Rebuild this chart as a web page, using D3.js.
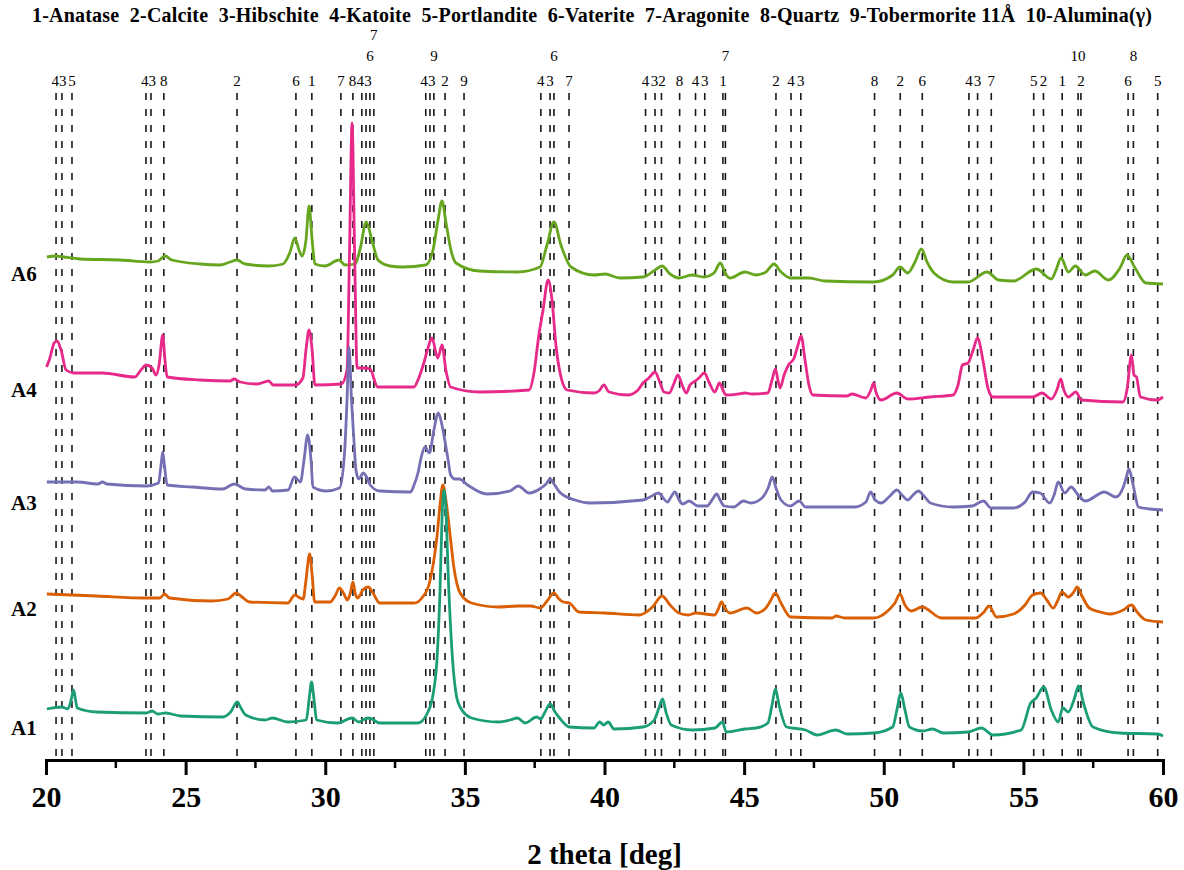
<!DOCTYPE html>
<html>
<head>
<meta charset="utf-8">
<script src="https://cdn.jsdelivr.net/npm/d3@7"></script>
<style>
  html, body { margin: 0; padding: 0; background: #fff; }
  svg { display: block; }
</style>
</head>
<body>
<svg id="chart" width="1184" height="870"></svg>
<script>
// XRD patterns, intensity in arbitrary units (stacked, offset included)
const seriesNames = ["A1", "A2", "A3", "A4", "A6"];
const seriesColors = ["#1b9e77", "#d95f02", "#7570b3", "#e7298a", "#66a61e"];

const a1 = [[20.03,53],[20.57,55],[20.78,53],[20.90,62],[20.99,72],[21.07,60],[21.12,54],[21.81,50],[23.59,49],[23.80,51],[24.00,48],[24.28,49],[24.82,46],[26.33,45],[26.61,50],[26.85,60],[26.98,54],[27.15,47],[27.84,42],[28.11,44],[28.66,40],[29.32,42],[29.42,62],[29.51,80],[29.60,62],[29.69,42],[30.44,39],[30.96,44],[31.20,40],[31.42,43],[31.57,44],[31.95,39],[33.32,39],[33.66,49],[33.87,69],[34.00,102],[34.11,172],[34.18,242],[34.25,272],[34.32,252],[34.41,182],[34.56,102],[34.68,69],[34.83,55],[35.24,44],[36.20,40],[36.62,42],[36.88,44],[37.16,39],[37.57,45],[37.71,43],[37.87,50],[38.05,58],[38.23,50],[38.39,44],[38.74,35],[39.62,34],[39.83,40],[39.97,37],[40.13,40],[40.34,33],[41.38,35],[41.78,42],[41.95,54],[42.08,63],[42.20,50],[42.39,37],[43.14,32],[43.96,34],[44.22,40],[44.36,30],[45.03,33],[45.44,34],[45.85,39],[46.00,57],[46.12,73],[46.25,57],[46.52,35],[47.20,32],[47.61,27],[48.28,32],[48.69,28],[49.64,29],[50.32,35],[50.47,52],[50.61,69],[50.76,52],[50.92,35],[51.40,31],[51.74,33],[52.14,29],[53.02,30],[53.50,34],[53.91,27],[54.92,32],[55.26,59],[55.46,64],[55.73,75],[56.00,52],[56.25,40],[56.41,54],[56.61,50],[56.81,62],[56.98,76],[57.17,57],[57.49,35],[58.44,29],[59.80,28],[60.00,26]];

const a2 = [[20.03,168],[21.81,166],[23.59,164],[24.08,164],[24.24,168],[24.42,164],[25.92,161],[26.52,163],[26.81,169],[27.02,165],[27.29,160],[28.66,159],[28.91,167],[29.10,164],[29.21,163],[29.31,182],[29.44,208],[29.53,187],[29.62,160],[30.17,160],[30.35,166],[30.51,174],[30.67,168],[30.79,162],[30.89,168],[30.99,180],[31.08,168],[31.17,164],[31.32,171],[31.54,175],[31.71,169],[31.95,159],[33.19,159],[33.46,164],[33.73,179],[33.89,202],[34.00,225],[34.11,257],[34.21,277],[34.32,262],[34.41,242],[34.49,222],[34.61,194],[34.83,169],[35.24,159],[36.20,155],[36.90,156],[37.36,156],[37.71,154],[37.94,161],[38.19,169],[38.37,163],[38.53,160],[38.74,159],[39.08,150],[40.02,149],[41.24,147],[41.72,155],[42.06,166],[42.35,157],[42.66,149],[43.00,147],[43.27,149],[43.95,147],[44.06,152],[44.19,160],[44.31,154],[44.49,149],[45.10,154],[45.44,149],[45.78,154],[45.96,162],[46.12,169],[46.32,159],[46.66,145],[48.15,144],[48.29,146],[48.61,144],[49.64,144],[50.18,152],[50.40,159],[50.58,168],[50.76,157],[50.99,151],[51.37,155],[52.07,144],[53.29,144],[53.59,150],[53.77,156],[54.04,145],[54.65,148],[55.06,157],[55.33,167],[55.62,169],[55.84,162],[56.07,154],[56.24,162],[56.38,170],[56.61,165],[56.78,169],[56.93,175],[57.10,166],[57.36,154],[57.75,150],[58.10,148],[58.58,152],[58.87,157],[59.10,149],[59.39,142],[60.00,140]];

const a3 = [[20.03,280],[21.12,280],[21.86,278],[22.02,280],[22.18,278],[23.59,276],[24.03,279],[24.12,297],[24.18,310],[24.24,297],[24.34,277],[25.24,275],[26.33,273],[26.74,278],[27.15,273],[27.84,272],[27.98,275],[28.11,271],[28.67,272],[28.90,285],[29.11,280],[29.24,302],[29.37,327],[29.49,302],[29.56,275],[30.03,271],[30.51,274],[30.69,309],[30.78,362],[30.85,415],[30.94,362],[31.02,325],[31.10,292],[31.20,283],[31.36,289],[31.50,284],[31.61,277],[31.95,271],[33.05,270],[33.18,277],[33.32,289],[33.43,304],[33.57,315],[33.73,309],[33.89,332],[34.05,349],[34.18,337],[34.28,322],[34.40,302],[34.49,287],[34.65,283],[34.80,283],[35.10,277],[35.79,268],[36.61,271],[36.91,276],[37.30,269],[37.73,274],[37.91,278],[38.05,283],[38.19,278],[38.39,270],[38.94,262],[39.48,259],[41.38,262],[41.63,265],[41.92,269],[42.26,260],[42.38,265],[42.52,270],[42.67,262],[42.80,258],[43.03,261],[43.34,256],[43.67,256],[43.85,262],[44.02,268],[44.14,262],[44.29,256],[44.63,255],[44.97,261],[45.24,259],[45.64,264],[45.86,274],[46.01,285],[46.14,274],[46.32,262],[46.66,256],[46.97,261],[47.20,255],[48.96,255],[49.36,260],[49.53,270],[49.69,262],[49.91,259],[50.22,266],[50.47,272],[50.65,267],[50.86,262],[51.05,267],[51.24,271],[51.44,266],[51.67,259],[52.48,255],[53.16,256],[53.57,261],[53.84,254],[54.65,254],[55.06,260],[55.33,270],[55.60,269],[55.94,259],[56.10,267],[56.25,280],[56.48,269],[56.71,275],[56.96,267],[57.22,261],[57.90,270],[58.31,265],[58.58,275],[58.68,284],[58.78,293],[58.93,277],[59.12,255],[59.52,253],[60.00,252]];

const a4 = [[20.02,395],[20.14,404],[20.29,419],[20.39,421],[20.54,412],[20.72,392],[20.99,389],[22.01,389],[23.18,385],[23.40,392],[23.59,397],[23.80,394],[23.94,387],[24.05,397],[24.18,427],[24.26,402],[24.34,385],[25.51,382],[26.59,381],[26.74,383],[26.95,380],[27.56,378],[27.98,381],[28.13,377],[28.93,377],[29.20,384],[29.31,412],[29.42,432],[29.53,412],[29.63,377],[30.58,378],[30.78,392],[30.87,512],[30.96,639],[31.05,512],[31.14,394],[31.39,394],[31.60,393],[31.88,375],[33.18,375],[33.32,382],[33.53,399],[33.68,414],[33.82,424],[34.03,404],[34.18,417],[34.32,392],[34.49,375],[35.51,370],[37.30,372],[37.48,390],[37.64,425],[37.80,452],[37.98,482],[38.12,462],[38.26,417],[38.41,389],[38.66,372],[39.62,369],[39.80,371],[39.98,377],[40.16,370],[40.84,367],[41.20,372],[41.38,379],[41.59,384],[41.81,390],[41.99,379],[42.13,370],[42.32,369],[42.48,378],[42.63,387],[42.78,377],[42.93,369],[43.06,377],[43.20,380],[43.38,384],[43.58,389],[43.74,380],[43.95,370],[44.12,379],[44.24,372],[44.35,367],[44.78,368],[45.03,369],[45.28,368],[45.85,369],[46.00,382],[46.12,393],[46.21,382],[46.29,374],[46.43,387],[46.59,397],[46.79,404],[46.93,417],[47.04,426],[47.18,402],[47.32,377],[47.46,367],[48.68,366],[48.86,368],[49.36,364],[49.54,372],[49.64,379],[49.72,370],[49.90,362],[50.47,369],[50.86,363],[51.66,365],[52.48,367],[52.66,377],[52.82,397],[53.02,399],[53.20,412],[53.36,424],[53.55,402],[53.73,374],[53.91,365],[55.33,365],[55.67,369],[56.00,363],[56.20,372],[56.34,383],[56.45,372],[56.61,365],[56.88,370],[57.08,362],[58.57,360],[58.71,372],[58.87,407],[58.96,387],[59.05,385],[59.19,365],[59.78,362],[60.00,365]];

const a6 = [[20.03,505],[20.36,506],[20.64,505],[21.22,503],[22.65,502],[23.72,500],[24.01,501],[24.26,506],[24.51,502],[25.51,498],[26.23,497],[26.59,500],[26.84,502],[27.13,498],[27.98,496],[28.49,498],[28.74,510],[28.91,524],[29.06,512],[29.17,506],[29.31,522],[29.42,556],[29.53,522],[29.63,498],[29.99,496],[30.49,502],[30.71,497],[31.07,498],[31.24,512],[31.47,540],[31.67,522],[31.89,502],[32.32,496],[32.78,495],[33.60,497],[33.86,512],[34.04,542],[34.18,561],[34.32,540],[34.50,512],[34.68,499],[35.51,491],[36.88,490],[37.69,495],[37.94,517],[38.19,540],[38.44,517],[38.80,495],[39.62,487],[40.02,488],[40.55,484],[41.38,485],[41.81,492],[42.06,496],[42.35,488],[42.67,484],[43.13,487],[43.55,485],[43.92,489],[44.15,499],[44.32,489],[44.49,484],[45.03,490],[45.43,487],[45.78,490],[46.07,498],[46.32,490],[46.66,484],[47.32,484],[47.88,481],[49.64,480],[50.32,487],[50.58,495],[50.86,489],[51.12,500],[51.35,513],[51.55,500],[51.80,489],[52.48,480],[53.02,480],[53.70,490],[54.11,482],[54.65,481],[55.46,493],[56.00,483],[56.17,492],[56.35,504],[56.61,490],[56.86,496],[57.22,487],[57.56,491],[58.04,482],[58.46,494],[58.71,507],[59.00,494],[59.39,479],[60.00,478]];

const seriesData = [a1, a2, a3, a4, a6];

// Reference reflections: 2θ position, phase number, label tier
const phasePos = [20.36,20.57,20.93,23.58,23.76,24.22,26.84,28.95,29.52,30.56,30.99,31.31,31.46,31.60,31.74,33.60,33.75,33.89,34.29,34.97,37.72,38.05,38.19,38.73,41.47,41.81,42.04,42.69,43.26,43.59,44.24,44.33,46.14,46.68,47.03,49.67,50.59,51.38,53.05,53.36,53.85,55.37,55.72,56.39,56.96,57.06,58.75,58.94,59.81];
const phaseId  = [4,3,5,4,3,8,2,6,1,7,8,4,3,6,7,4,3,9,2,9,4,3,6,7,4,3,2,8,4,3,1,7,2,4,3,8,2,6,4,3,7,5,2,1,10,2,6,8,5];
const phaseTier = [0,0,0,0,0,0,0,0,0,0,0,0,0,1,2,0,0,1,0,0,0,0,1,0,0,0,0,0,0,0,0,1,0,0,0,0,0,0,0,0,0,0,0,0,1,0,0,1,0];

const legendText = "1-Anatase  2-Calcite  3-Hibschite  4-Katoite  5-Portlandite  6-Vaterite  7-Aragonite  8-Quartz  9-Tobermorite 11Å  10-Alumina(γ)";
const majorTicks = [20, 25, 30, 35, 40, 45, 50, 55, 60];
const minorTicks = [22.5, 27.5, 32.5, 37.5, 42.5, 47.5, 52.5, 57.5];
const xTitle = "2 theta [deg]";

const svg = d3.select("#chart");
const serif = "'Liberation Serif', 'Times New Roman', serif";

const x = d3.scaleLinear().domain([20, 60]).range([46, 1163]);
const y = d3.scaleLinear().domain([0, 700]).range([762, 62]);

// phase legend
svg.append("text")
  .attr("x", 32).attr("y", 22)
  .attr("font-family", serif).attr("font-weight", "bold").attr("font-size", 20)
  .attr("textLength", 1120).attr("lengthAdjust", "spacing")
  .style("white-space", "pre")
  .text(legendText);

// dashed reference lines
svg.append("g").selectAll("line")
  .data(phasePos)
  .join("line")
  .attr("x1", d => x(d)).attr("x2", d => x(d))
  .attr("y1", 93).attr("y2", 759)
  .attr("stroke", "#1a1a1a").attr("stroke-width", 1.6)
  .attr("stroke-dasharray", "7,9");

// phase numbers above the lines; neighbours in the same tier are nudged apart
const tierY = [86, 61, 40];
const digitW = 7.2;
const labels = phasePos.map((p, i) => ({
  id: phaseId[i], tier: phaseTier[i], cx: x(p), w: String(phaseId[i]).length * digitW
}));
for (let pass = 0; pass < 6; pass++) {
  [0, 1, 2].forEach(t => {
    const row = labels.filter(l => l.tier === t).sort((a, b) => a.cx - b.cx);
    for (let k = 1; k < row.length; k++) {
      const a = row[k - 1], b = row[k];
      const gap = (b.cx - b.w / 2) - (a.cx + a.w / 2);
      if (gap < 0.5) {
        const push = (0.5 - gap) / 2;
        a.cx -= push; b.cx += push;
      }
    }
  });
}
svg.append("g").selectAll("text")
  .data(labels)
  .join("text")
  .attr("x", d => d.cx)
  .attr("y", d => tierY[d.tier])
  .attr("text-anchor", "middle")
  .attr("font-family", serif).attr("font-size", 15)
  .text(d => d.id);

// patterns, top sample first so lower ones overlay
const line = d3.line()
  .x(d => x(d[0])).y(d => y(d[1]))
  .curve(d3.curveMonotoneX);

const order = [4, 3, 2, 1, 0];
svg.append("g").selectAll("path")
  .data(order)
  .join("path")
  .attr("d", i => line(seriesData[i]))
  .attr("fill", "none")
  .attr("stroke", i => seriesColors[i])
  .attr("stroke-width", 2.8)
  .attr("stroke-linejoin", "round");

// sample labels beside each baseline
const labelLift = [-26, -22, -28, -30, -24];
svg.append("g").selectAll("text")
  .data(seriesNames)
  .join("text")
  .attr("x", 11)
  .attr("y", (d, i) => y(seriesData[i][0][1]) - labelLift[i])
  .attr("font-family", serif).attr("font-weight", "bold").attr("font-size", 21)
  .text(d => d);

// x axis
const axisG = svg.append("g").attr("transform", "translate(0,760)");
axisG.call(d3.axisBottom(x).tickValues(majorTicks).tickSize(15).tickPadding(11).tickFormat(d3.format("d")));
axisG.select(".domain").attr("stroke", "#000").attr("stroke-width", 3);
axisG.selectAll(".tick line").attr("stroke", "#000").attr("stroke-width", 3);
axisG.selectAll(".tick text")
  .attr("font-family", serif).attr("font-weight", "bold").attr("font-size", 30).attr("fill", "#000");
axisG.append("g").selectAll("line")
  .data(minorTicks)
  .join("line")
  .attr("x1", d => x(d)).attr("x2", d => x(d))
  .attr("y1", 0).attr("y2", 8)
  .attr("stroke", "#000").attr("stroke-width", 2.5);

svg.append("text")
  .attr("x", x(40)).attr("y", 864)
  .attr("text-anchor", "middle")
  .attr("font-family", serif).attr("font-weight", "bold").attr("font-size", 29)
  .text(xTitle);
</script>
</body>
</html>
